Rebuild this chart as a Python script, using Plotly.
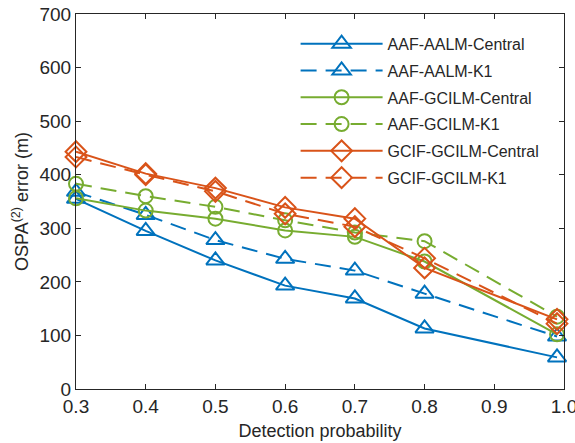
import plotly.graph_objects as go

# Detection probability (x) and OSPA(2) error values (m) per method
detection_prob = [0.3, 0.4, 0.5, 0.6, 0.7, 0.8, 0.99]
aaf_aalm_central = [355, 295, 240, 193, 169, 113, 59]
aaf_aalm_k1 = [368, 325, 278, 243, 221, 178, 98]
aaf_gcilm_central = [356, 333, 318, 296, 284, 238, 102]
aaf_gcilm_k1 = [383, 360, 340, 315, 292, 276, 135]
gcif_gcilm_central = [443, 402, 375, 339, 318, 226, 130]
gcif_gcilm_k1 = [433, 400, 369, 327, 303, 244, 122]

x_ticks = [0.3, 0.4, 0.5, 0.6, 0.7, 0.8, 0.9, 1.0]
y_ticks = [0, 100, 200, 300, 400, 500, 600, 700]

BLUE = "#0072BD"
GREEN = "#77AC30"
RED = "#D95319"
INK = "#262626"
FONT = "Liberation Sans, Arial, sans-serif"
DASH = "16px,9px"

series = [
    ("AAF-AALM-Central", aaf_aalm_central, BLUE, "solid", "triangle-up-open", 16),
    ("AAF-AALM-K1", aaf_aalm_k1, BLUE, DASH, "triangle-up-open", 16),
    ("AAF-GCILM-Central", aaf_gcilm_central, GREEN, "solid", "circle-open", 14),
    ("AAF-GCILM-K1", aaf_gcilm_k1, GREEN, DASH, "circle-open", 14),
    ("GCIF-GCILM-Central", gcif_gcilm_central, RED, "solid", "diamond-open", 16),
    ("GCIF-GCILM-K1", gcif_gcilm_k1, RED, DASH, "diamond-open", 16),
]

fig = go.Figure()
for i, (name, values, color, dash, symbol, size) in enumerate(series):
    fig.add_trace(go.Scatter(
        x=detection_prob, y=values, name=name, mode="lines+markers",
        legendgroup=f"g{i}",
        line=dict(color=color, width=2, dash=dash),
        marker=dict(symbol=symbol, size=size, color=color,
                    line=dict(color=color, width=2)),
        cliponaxis=False,
    ))

axis_common = dict(
    showline=True, linecolor=INK, linewidth=1, mirror="ticks",
    ticks="inside", ticklen=5, tickcolor=INK, tickwidth=1,
    showgrid=False, zeroline=False, automargin=False,
    tickfont=dict(family=FONT, size=19, color=INK),
    title_font=dict(family=FONT, size=18, color=INK),
    ticklabeloverflow="allow",
)

fig.update_xaxes(
    range=[0.3, 1.0], tickvals=x_ticks, tickformat=".1f",
    title_text="Detection probability", title_standoff=8, **axis_common,
)
fig.update_yaxes(
    range=[0, 700], tickvals=y_ticks,
    title_text="OSPA<sup>(2)</sup> error (m)", title_standoff=6, **axis_common,
)

fig.update_layout(
    width=575, height=443,
    margin=dict(l=76, r=11, t=14, b=54),
    paper_bgcolor="white", plot_bgcolor="white",
    font=dict(family=FONT, color=INK),
    legend=dict(
        x=0.45, y=0.966, xanchor="left", yanchor="top",
        bgcolor="rgba(255,255,255,0)", borderwidth=0,
        font=dict(family=FONT, size=16, color=INK),
        itemwidth=82, tracegroupgap=3,
    ),
)

fig.write_html("out.html")
